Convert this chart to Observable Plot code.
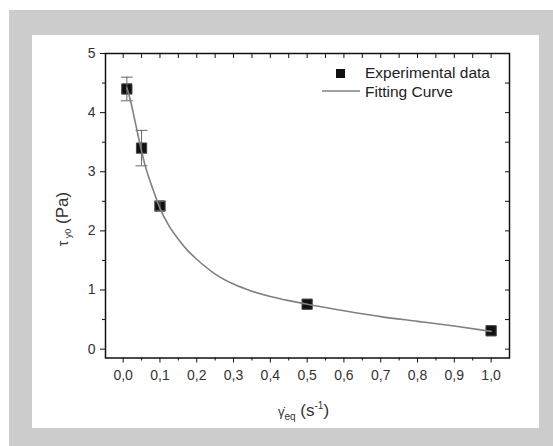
<!DOCTYPE html>
<html>
<head>
<meta charset="utf-8">
<script src="https://cdn.jsdelivr.net/npm/d3@7"></script>
<script src="https://cdn.jsdelivr.net/npm/@observablehq/plot@0.6"></script>
<style>
  html, body { margin: 0; padding: 0; background: #ffffff; }
  #wrap { position: relative; width: 553px; height: 446px; overflow: hidden; }
  #gray { position: absolute; left: 9px; top: 10px; width: 544px; height: 436px; background: #cccccc; }
  #panel { position: absolute; left: 32px; top: 35px; width: 507px; height: 393px; background: #ffffff; }
  #chart { position: absolute; left: 0; top: 0; }
</style>
</head>
<body>
<div id="wrap">
  <div id="gray"></div>
  <div id="panel"></div>
  <div id="chart"></div>
</div>
<script>
// Experimental data
const expX = [0.01, 0.05, 0.1, 0.5, 1.0];
const expY = [4.4, 3.4, 2.42, 0.76, 0.31];
const expErr = [0.2, 0.3, 0.08, 0, 0];

// Fitting curve
const curveX = [0.01,0.02,0.03,0.04,0.05,0.06,0.07,0.08,0.1,0.125,0.15,0.175,0.2,0.25,0.3,0.35,0.4,0.45,0.5,0.6,0.7,0.8,0.9,1.0];
const curveY = [4.42,4.2,3.92,3.63,3.35,3.1,2.9,2.72,2.38,2.08,1.86,1.67,1.52,1.27,1.1,0.98,0.89,0.82,0.76,0.65,0.55,0.47,0.39,0.3];

// Ticks
const xTicks = [0,0.1,0.2,0.3,0.4,0.5,0.6,0.7,0.8,0.9,1.0];
const xMinorTicks = [0.05,0.15,0.25,0.35,0.45,0.55,0.65,0.75,0.85,0.95];
const yTicks = [0,1,2,3,4,5];
const yMinorTicks = [0.5,1.5,2.5,3.5,4.5];
const yRightTicks = [0,0.5,1,1.5,2,2.5,3,3.5,4,4.5];

const legendLabels = ["Experimental data", "Fitting Curve"];

const points = expX.map((x, i) => ({x, y: expY[i], lo: expY[i] - expErr[i], hi: expY[i] + expErr[i], err: expErr[i]}));
const errPoints = points.filter(d => d.err > 0);
const curve = curveX.map((x, i) => ({x, y: curveY[i]}));

const fmt = d => d3.format(".1f")(d).replace(".", ",");
const capSymbol = {draw(ctx, size) { const r = Math.sqrt(size / Math.PI); ctx.moveTo(-r, 0); ctx.lineTo(r, 0); }};

const chart = Plot.plot({
  width: 553,
  height: 446,
  marginTop: 53,
  marginRight: 44,
  marginBottom: 88.5,
  marginLeft: 105,
  style: {fontFamily: "'Liberation Sans', Arial, sans-serif", fontSize: "14px", background: "transparent", color: "#333"},
  x: {domain: [-0.048, 1.05]},
  y: {domain: [-0.15, 5]},
  marks: [
    Plot.axisY({ticks: yTicks, tickSize: 5, tickPadding: 5, tickFormat: d => String(d), label: null, fill: "#333", stroke: "#111"}),
    Plot.axisY({ticks: yMinorTicks, tickSize: 3, tickFormat: () => "", label: null, stroke: "#111"}),
    Plot.axisY({ticks: yRightTicks, anchor: "right", tickSize: -5, tickFormat: () => "", label: null, stroke: "#111"}),
    Plot.axisX({ticks: xTicks, tickSize: 5, tickPadding: 7, tickFormat: fmt, label: null, fill: "#333", stroke: "#111"}),
    Plot.axisX({ticks: xMinorTicks, tickSize: 3, tickFormat: () => "", label: null, stroke: "#111"}),
    Plot.axisX({ticks: xTicks.concat(xMinorTicks), anchor: "top", tickSize: -4, tickFormat: () => "", label: null, stroke: "#111"}),
    Plot.dot(points, {x: "x", y: "y", symbol: "square", r: 5.8, fill: "#111", stroke: "#444", strokeWidth: 1}),
    Plot.ruleX(errPoints, {x: "x", y1: "lo", y2: "hi", stroke: "#666", strokeWidth: 1}),
    Plot.dot(errPoints, {x: "x", y: "lo", symbol: capSymbol, r: 6, stroke: "#666", strokeWidth: 1, fill: "none"}),
    Plot.dot(errPoints, {x: "x", y: "hi", symbol: capSymbol, r: 6, stroke: "#666", strokeWidth: 1, fill: "none"}),
    Plot.line(curve, {x: "x", y: "y", stroke: "#808080", strokeWidth: 1.6, curve: "monotone-x"}),
    Plot.frame({stroke: "#111", strokeWidth: 1.5})
  ]
});

document.getElementById("chart").appendChild(chart);

const svg = d3.select(chart);
const ff = "'Liberation Sans', Arial, sans-serif";

// Legend
const lg = svg.append("g").attr("font-family", ff).attr("fill", "#222").attr("text-anchor", "start");
lg.append("rect").attr("x", 336).attr("y", 69).attr("width", 9).attr("height", 9).attr("fill", "#111");
lg.append("text").attr("x", 365).attr("y", 77.5).attr("font-size", 15.5).text(legendLabels[0]);
lg.append("line").attr("x1", 322).attr("x2", 360).attr("y1", 91).attr("y2", 91).attr("stroke", "#808080").attr("stroke-width", 1.5);
lg.append("text").attr("x", 365).attr("y", 97).attr("font-size", 15.5).text(legendLabels[1]);

// X axis title
const xt = svg.append("text").attr("x", 278).attr("y", 416).attr("text-anchor", "start").attr("font-family", ff).attr("fill", "#333");
xt.append("tspan").attr("font-size", 13).text("\u03B3\u0307");
xt.append("tspan").attr("font-size", 10).attr("dy", 4).text("eq");
xt.append("tspan").attr("font-size", 17).attr("dy", -4).text(" (s");
xt.append("tspan").attr("font-size", 10).attr("dy", -7).text("-1");
xt.append("tspan").attr("font-size", 17).attr("dy", 7).text(")");

// Y axis title
const yt = svg.append("text").attr("transform", "translate(68,219) rotate(-90)").attr("text-anchor", "middle").attr("font-family", ff).attr("fill", "#333");
yt.append("tspan").attr("font-size", 14).text("\u03C4");
yt.append("tspan").attr("font-size", 9).attr("dy", 3).text(" y0");
yt.append("tspan").attr("font-size", 17).attr("dy", -3).text(" (Pa)");
</script>
</body>
</html>
